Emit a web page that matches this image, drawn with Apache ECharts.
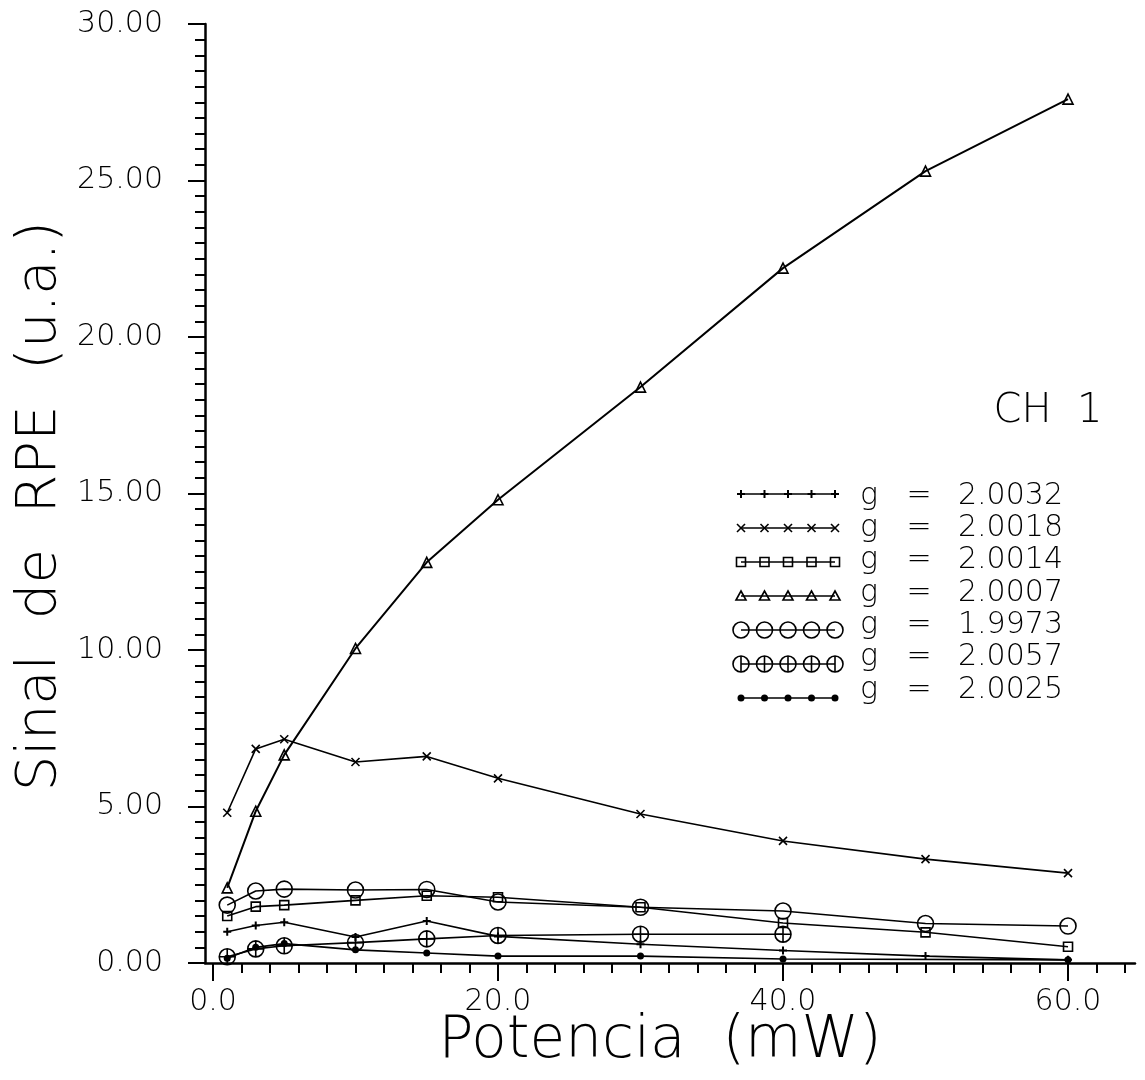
<!DOCTYPE html>
<html>
<head>
<meta charset="utf-8">
<script src="https://cdn.jsdelivr.net/npm/echarts@6/dist/echarts.min.js"></script>
<style>
  html, body { margin: 0; background: #fff; }
  #chart { width: 1145px; height: 1080px; }
</style>
</head>
<body>
<div id="chart"></div>
<script>
// Potencia (mW) and signal values
const potencia = [1, 3, 5, 10, 15, 20, 30, 40, 50, 60];
const g20032 = [1.0, 1.2, 1.3, 0.83, 1.34, 0.85, 0.6, 0.4, 0.22, 0.1];
const g20018 = [4.8, 6.84, 7.15, 6.42, 6.6, 5.9, 4.76, 3.9, 3.32, 2.87];
const g20014 = [1.5, 1.8, 1.85, 2.0, 2.15, 2.1, 1.78, 1.28, 0.98, 0.52];
const g20007 = [2.4, 4.85, 6.65, 10.05, 12.8, 14.8, 18.4, 22.2, 25.3, 27.6];
const g19973 = [1.85, 2.3, 2.36, 2.33, 2.35, 1.95, 1.78, 1.66, 1.26, 1.18];
const g20057 = [0.2, 0.45, 0.55, 0.65, 0.77, 0.88, 0.92, 0.92, null, null];
const g20025 = [0.15, 0.5, 0.62, 0.42, 0.32, 0.22, 0.22, 0.13, null, 0.1];

const gLabels = ["2.0032", "2.0018", "2.0014", "2.0007", "1.9973", "2.0057", "2.0025"];
const xLabels = [0, 20, 40, 60];
const yLabels = [0, 5, 10, 15, 20, 25, 30];

const FONT = "DejaVu Sans";

const marks = {
  plus: { symbol: "path://M3,0 H5 V3 H8 V5 H5 V8 H3 V5 H0 V3 H3 Z", size: 8, filled: true },
  cross: { symbol: "path://M0,0 L8,8 M0,8 L8,0", size: 8, filled: false },
  square: { symbol: "rect", size: 9, filled: false },
  triangle: { symbol: "triangle", size: 10, filled: false },
  circle: { symbol: "circle", size: 16, filled: false },
  oplus: {
    symbol: "path://M0,10 A10,10 0 1 1 20,10 A10,10 0 1 1 0,10 Z M10,0 L10,20 M0,10 L20,10",
    size: 16,
    filled: false,
  },
  dot: { symbol: "circle", size: 7, filled: true },
};

const seriesList = [
  { values: g20032, mark: "plus" },
  { values: g20018, mark: "cross" },
  { values: g20014, mark: "square" },
  { values: g20007, mark: "triangle" },
  { values: g19973, mark: "circle" },
  { values: g20057, mark: "oplus" },
  { values: g20025, mark: "dot" },
];

const xMinorTicks = [];
for (let v = 0; v <= 64; v += 2) xMinorTicks.push(v);

const series = seriesList.map((s, i) => {
  const m = marks[s.mark];
  return {
    name: gLabels[i],
    type: "line",
    data: potencia.map((x, k) => [x, s.values[k]]),
    connectNulls: true,
    symbol: m.symbol,
    symbolSize: m.size,
    showAllSymbol: true,
    lineStyle: { color: "#000", width: s.mark === "triangle" ? 2 : 1.6 },
    itemStyle: {
      color: m.filled ? "#000" : "transparent",
      borderColor: "#000",
      borderWidth: m.filled ? 0 : 1.6,
    },
    z: 3,
    animation: false,
  };
});

// legend drawn by hand: line with five marks, "g", "=", value
function legendMark(kind, x, y) {
  const st = { stroke: "#000", lineWidth: 1.6, fill: "transparent" };
  switch (kind) {
    case "plus":
      return { type: "polygon", shape: { points: [[x - 1, y - 4], [x + 1, y - 4], [x + 1, y - 1], [x + 4, y - 1], [x + 4, y + 1], [x + 1, y + 1], [x + 1, y + 4], [x - 1, y + 4], [x - 1, y + 1], [x - 4, y + 1], [x - 4, y - 1], [x - 1, y - 1]] }, style: { fill: "#000" } };
    case "cross":
      return { type: "group", children: [
        { type: "line", shape: { x1: x - 4, y1: y - 4, x2: x + 4, y2: y + 4 }, style: st },
        { type: "line", shape: { x1: x - 4, y1: y + 4, x2: x + 4, y2: y - 4 }, style: st },
      ] };
    case "square":
      return { type: "rect", shape: { x: x - 4.5, y: y - 4.5, width: 9, height: 9 }, style: st };
    case "triangle":
      return { type: "polygon", shape: { points: [[x, y - 5], [x + 5, y + 4], [x - 5, y + 4]] }, style: st };
    case "circle":
      return { type: "circle", shape: { cx: x, cy: y, r: 8 }, style: st };
    case "oplus":
      return { type: "group", children: [
        { type: "circle", shape: { cx: x, cy: y, r: 8 }, style: st },
        { type: "line", shape: { x1: x, y1: y - 8, x2: x, y2: y + 8 }, style: st },
      ] };
    default:
      return { type: "circle", shape: { cx: x, cy: y, r: 3.5 }, style: { fill: "#000" } };
  }
}

const legendGraphics = [];
seriesList.forEach((s, i) => {
  const ty = 496 + i * 32.3;
  const ly = 494 + i * 34;
  legendGraphics.push({
    type: "line",
    shape: { x1: 741, y1: ly, x2: 835, y2: ly },
    style: { stroke: "#000", lineWidth: 1.6 },
  });
  for (let k = 0; k < 5; k++) {
    legendGraphics.push(legendMark(s.mark, 741 + k * 23.5, ly));
  }
  const txt = { fill: "#000", fontSize: 30, fontFamily: FONT, fontWeight: 200, textVerticalAlign: "middle" };
  legendGraphics.push({ type: "text", x: 869, y: ty, style: { ...txt, text: "g", textAlign: "center" } });
  legendGraphics.push({ type: "text", x: 919, y: ty, style: { ...txt, text: "=", textAlign: "center" } });
  legendGraphics.push({ type: "text", x: 958, y: ty, style: { ...txt, text: gLabels[i], textAlign: "left" } });
});

const chart = echarts.init(document.getElementById("chart"));

const axisFont = { color: "#000", fontSize: 30, fontFamily: FONT, fontWeight: 200 };

const option = {
  backgroundColor: "#fff",
  animation: false,
  grid: { left: 205, right: 10, top: 24, bottom: 117 },
  xAxis: [
    {
      type: "value",
      min: -0.56,
      max: 64.7,
      position: "bottom",
      axisLine: { onZero: false, lineStyle: { color: "#000", width: 2.5 } },
      axisTick: { customValues: xMinorTicks, length: 10, lineStyle: { color: "#000", width: 2 } },
      axisLabel: { ...axisFont, customValues: xLabels, margin: 24, formatter: (v) => v.toFixed(1) },
      splitLine: { show: false },
    },
    {
      type: "value",
      min: -0.56,
      max: 64.7,
      position: "bottom",
      offset: 0,
      axisLine: { show: false, onZero: false },
      axisTick: { customValues: xLabels, length: 18, lineStyle: { color: "#000", width: 2 } },
      axisLabel: { show: false },
      splitLine: { show: false },
    },
  ],
  yAxis: {
    type: "value",
    min: 0,
    max: 30,
    interval: 5,
    axisLine: { show: true, onZero: false, lineStyle: { color: "#000", width: 2.5 } },
    axisTick: { show: true, length: 17, lineStyle: { color: "#000", width: 2 } },
    minorTick: { show: true, splitNumber: 10, length: 10, lineStyle: { color: "#000", width: 2 } },
    axisLabel: { ...axisFont, margin: 42, formatter: (v) => v.toFixed(2) },
    splitLine: { show: false },
  },
  series,
  graphic: [
    {
      type: "text",
      x: 660,
      y: 1042,
      style: { text: "Potencia  (mW)", fill: "#000", fontSize: 58, fontFamily: FONT, fontWeight: 200, textAlign: "center", textVerticalAlign: "middle" },
    },
    {
      type: "text",
      x: 40,
      y: 506,
      rotation: Math.PI / 2,
      style: { text: "Sinal  de  RPE  (u.a.)", fill: "#000", fontSize: 56, fontFamily: FONT, fontWeight: 200, textAlign: "center", textVerticalAlign: "middle" },
    },
    {
      type: "text",
      x: 1048,
      y: 412,
      style: { text: "CH  1", fill: "#000", fontSize: 40, fontFamily: FONT, fontWeight: 200, textAlign: "center", textVerticalAlign: "middle" },
    },
    ...legendGraphics,
  ],
};

chart.setOption(option);
</script>
</body>
</html>
